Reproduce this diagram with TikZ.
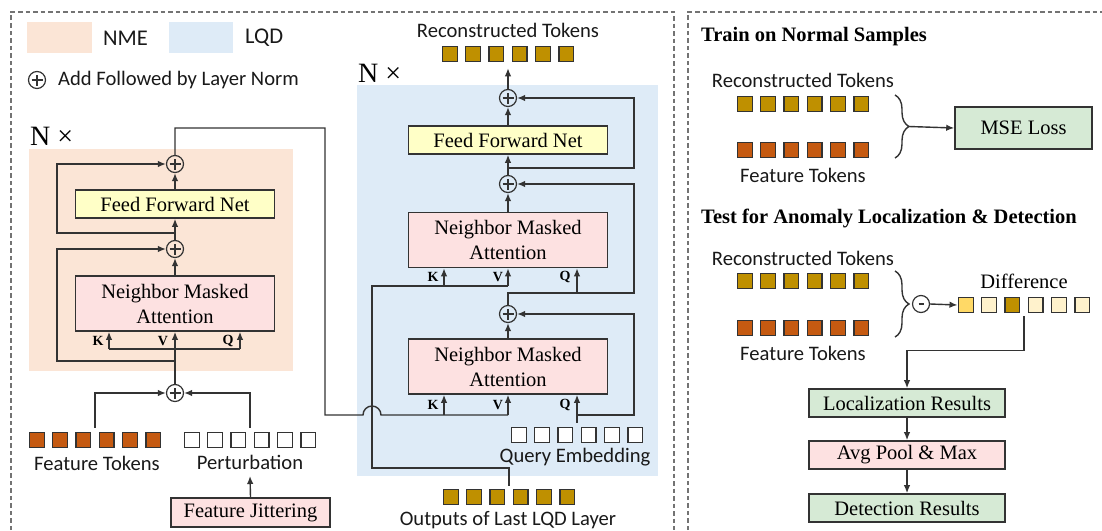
\documentclass[tikz,border=0pt]{standalone}
\usepackage{fontspec}
\setmainfont{Liberation Serif}
\newfontfamily\sansf{Carlito}
\usetikzlibrary{arrows.meta,fit,decorations.pathreplacing,calc}

\definecolor{nmeBg}{HTML}{FBE5D6}
\definecolor{lqdBg}{HTML}{DEEBF7}
\definecolor{ffnY}{HTML}{FFFFC7}
\definecolor{nmaP}{HTML}{FDE1E1}
\definecolor{resG}{HTML}{D6EAD5}
\definecolor{tokGold}{HTML}{BF9000}
\definecolor{tokOrange}{HTML}{C55A11}
\definecolor{diffHi}{HTML}{FFD966}
\definecolor{diffLo}{HTML}{FFF2CC}
\definecolor{edge}{HTML}{333333}

% a row of six token squares, named #1-1 ... #1-6, plus a fitting node #1
\newcommand\tokrow[4]{%
  \foreach \i in {1,...,6}{\node[tok,fill=#4] (#1-\i) at ({#2+(\i-3.5)*23.3},#3) {};}
  \node[fit=(#1-1)(#1-6),inner sep=0pt] (#1) {};}

\begin{document}
\begin{tikzpicture}[x=1pt,y=-1pt,
  ln/.style={line width=1.4pt, draw=edge},
  arr/.style={ln, -{Latex[length=8pt,width=6.5pt]}},
  frame/.style={draw=black!55, line width=1.1pt, dash pattern=on 4.5pt off 3pt},
  box/.style={draw=edge, line width=1.6pt, inner sep=0pt,
    font=\fontsize{20.5}{25}\selectfont, align=center},
  ffn/.style={box, fill=ffnY, minimum width=199pt, minimum height=28pt},
  nma/.style={box, fill=nmaP, minimum width=199pt, minimum height=55pt},
  res/.style={box, fill=resG, minimum width=196pt, minimum height=28pt},
  tok/.style={draw=edge, line width=1.3pt, minimum size=14.8pt, inner sep=0pt},
  sanslab/.style={inner sep=0pt, font=\sansf\fontsize{20.6}{24}\selectfont, text=black!90},
  serlab/.style={inner sep=0pt, font=\fontsize{20.5}{24}\selectfont},
  title/.style={inner sep=0pt, anchor=west, font=\fontsize{20.5}{24}\selectfont\bfseries},
  kvq/.style={inner sep=0pt, font=\fontsize{14}{16}\selectfont\bfseries},
  nx/.style={inner sep=0pt, anchor=west, font=\fontsize{28}{30}\selectfont},
  addc/.style={circle, draw=edge, line width=1.2pt, minimum size=17pt, inner sep=0pt,
    path picture={
      \draw[line width=1.2pt] ([xshift=-5.5pt]path picture bounding box.center) -- ([xshift=5.5pt]path picture bounding box.center);
      \draw[line width=1.2pt] ([yshift=-5.5pt]path picture bounding box.center) -- ([yshift=5.5pt]path picture bounding box.center);}},
  subc/.style={circle, draw=edge, line width=1.2pt, minimum size=17pt, inner sep=0pt,
    path picture={
      \draw[line width=1.2pt] ([xshift=-2.5pt]path picture bounding box.center) -- ([xshift=2.5pt]path picture bounding box.center);}},
  brace/.style={draw=edge, line width=1.4pt, decorate, decoration={brace, amplitude=14pt}},
]
\useasboundingbox (0,0) rectangle (1102,530);

% ---------- dashed frames ----------
\draw[frame] (11,530) -- (11,12) -- (674,12) -- (674,530);
\draw[frame] (688,530) -- (688,12) -- (1102,12);

% ---------- legend ----------
\fill[nmeBg] (27,22) rectangle (92,53);
\node[sanslab, anchor=west, font=\sansf\fontsize{22.5}{26}\selectfont] (legNME) at (103,38) {NME};
\fill[lqdBg] (169,22) rectangle (233,53);
\node[sanslab, anchor=west, font=\sansf\fontsize{22.5}{26}\selectfont] (legLQD) at (245,38) {LQD};
\node[addc] (legAdd) at (37,80) {};
\node[sanslab, anchor=west] (legAddTxt) at (58,80) {Add Followed by Layer Norm};

% ---------- NME block ----------
\fill[nmeBg] (29,149) rectangle (293,371);
\node[nx] (nxL) at (30,136) {N ×};
\node[addc] (pA) at (175,164) {};
\node[ffn] (ffnL) at (175,204) {Feed Forward Net};
\node[addc] (pB) at (175,249) {};
\node[nma] (nmaL) at (175,303.5) {Neighbor Masked\\Attention};
\node[addc] (pC) at (175,393) {};
\node[kvq] at (98,341) {K};
\node[kvq] at (163,341) {V};
\node[kvq] at (228,341) {Q};

\draw[arr] (pC.north) -- (nmaL.south);
\coordinate (kL) at (109,349);
\coordinate (qL) at (240,349);
\draw[ln] (kL) -- (qL);
\draw[arr] (kL) -- (kL |- nmaL.south);
\draw[arr] (qL) -- (qL |- nmaL.south);
\coordinate (rL1) at (57,361);
\draw[arr] (pC.north |- rL1) -- (rL1) |- (pB.west);
\draw[arr] (nmaL.north) -- (pB.south);
\draw[arr] (pB.north) -- (ffnL.south);
\coordinate (rL2) at (57,233);
\draw[arr] (pB.north |- rL2) -- (rL2) |- (pA.west);
\draw[arr] (ffnL.north) -- (pA.south);

% NME inputs
\tokrow{ftL}{95}{440}{tokOrange}
\tokrow{ptL}{250}{440}{white}
\node[sanslab] (ftLlab) at (97,463) {Feature Tokens};
\node[sanslab] (ptLlab) at (250,462) {Perturbation};
\node[box, fill=nmaP, minimum width=159pt, minimum height=29pt] (jit) at (250.5,512.5) {Feature Jittering};
\coordinate (jitTip) at (250,476);
\draw[arr] (jit.north) -- (jitTip);
\draw[arr] ([yshift=4pt]ftL.north) |- (pC.west);
\draw[arr] ([yshift=4pt]ptL.north) |- (pC.east);

% ---------- LQD block ----------
\fill[lqdBg] (357,85) rectangle (658,476);
\node[nx] (nxC) at (358,73) {N ×};
\node[sanslab] (recClab) at (508,30) {Reconstructed Tokens};
\tokrow{recC}{508}{54}{tokGold}
\node[addc] (pD) at (508,98) {};
\node[ffn] (ffnC) at (508,140) {Feed Forward Net};
\node[addc] (pE) at (508,184) {};
\node[nma] (nmaU) at (508,240) {Neighbor Masked\\Attention};
\node[addc] (pF) at (508,314) {};
\node[nma] (nmaB) at (508,366.5) {Neighbor Masked\\Attention};
\node[kvq] at (433,277) {K};
\node[kvq] at (498,277) {V};
\node[kvq] at (565,277) {Q};
\node[kvq] at (433,405) {K};
\node[kvq] at (498,405) {V};
\node[kvq] at (565,405) {Q};
\tokrow{qryC}{577}{435}{white}
\node[sanslab] (qryClab) at (575,457) {Query Embedding};
\tokrow{outC}{509}{497}{tokGold}
\node[sanslab] (outClab) at (508,520) {Outputs of Last LQD Layer};

\draw[arr] (pD.north) -- ([yshift=-6pt]recC.south);
\draw[arr] (ffnC.north) -- (pD.south);
\draw[arr] (pE.north) -- (ffnC.south);
\coordinate (rC1) at (634,168);
\draw[arr] (pE.north |- rC1) -- (rC1) |- (pD.east);
\draw[arr] (nmaU.north) -- (pE.south);
\coordinate (rC2) at (634,293);
\draw[arr] (pF.north) |- (rC2) |- (pE.east);
\coordinate (qU) at (577,293);
\draw[arr] (qU) -- (qU |- nmaU.south);
\draw[arr] (nmaB.north) -- (pF.south);
\draw[arr] ([yshift=4pt]qryC.north) -- (qryC.north |- nmaB.south);
\coordinate (qB) at (577,415);
\coordinate (rC3) at (634,415);
\draw[arr] (qB) -- (rC3) |- (pF.east);

% K/V of the upper attention from the last LQD layer
\coordinate (kvU) at (372,286);
\coordinate (kU) at (444,286);
\coordinate (vU) at (508,286);
\draw[ln] ([yshift=3pt]outC.north) |- (372,468) -- (kvU) -- (vU);
\draw[arr] (kU) -- (kU |- nmaU.south);
\draw[arr] (vU) -- (vU |- nmaU.south);

% NME output into K/V of the lower attention, hopping over the vertical line
\coordinate (nmeUp) at (325,128);
\coordinate (kB) at (444,415);
\coordinate (vB) at (508,415);
\draw[ln] (pA.north) |- (nmeUp) -- (325,415) -- (363,415)
  arc[start angle=180, end angle=0, radius=9pt] -- (vB);
\draw[arr] (kB) -- (kB |- nmaB.south);
\draw[arr] (vB) -- (vB |- nmaB.south);

% ---------- training ----------
\node[title] (trainT) at (701,37) {Train on Normal Samples};
\node[sanslab] (recR1lab) at (803,80) {Reconstructed Tokens};
\tokrow{recR1}{803}{104}{tokGold}
\tokrow{ftR1}{803}{150}{tokOrange}
\node[sanslab] (ftR1lab) at (803,175) {Feature Tokens};
\draw[brace] (895,95) -- (895,158);
\coordinate (b1) at (909,126.5);
\node[box, fill=resG, minimum width=137pt, minimum height=42pt] (mse) at (1023.5,128) {MSE Loss};
\draw[arr] (b1) -- (mse.west);

% ---------- testing ----------
\node[title] (testT) at (701,218) {Test for Anomaly Localization \& Detection};
\node[sanslab] (recR2lab) at (803,258) {Reconstructed Tokens};
\tokrow{recR2}{803}{281}{tokGold}
\tokrow{ftR2}{803}{328}{tokOrange}
\node[sanslab] (ftR2lab) at (803,353) {Feature Tokens};
\draw[brace] (895,271) -- (895,337);
\node[subc] (sub) at (921,304) {};
\node[serlab] (difflab) at (1024,281) {Difference};
\foreach \i/\c in {1/diffHi,2/diffLo,3/tokGold,4/diffLo,5/diffLo,6/diffLo}{
  \node[tok,fill=\c] (diff-\i) at ({1024+(\i-3.5)*23.3},305) {};}
\node[fit=(diff-1)(diff-6), inner sep=0pt] (diff) {};
\draw[arr] (sub.east) -- (diff.west);
\node[res] (loc) at (907,403) {Localization Results};
\node[box, fill=nmaP, minimum width=196pt, minimum height=28pt] (avg) at (907,455) {Avg Pool \& Max};
\node[res] (det) at (907,508) {Detection Results};
\draw[arr] ([yshift=-3pt]diff.south) -- ++(0,34) -| (loc.north);
\draw[arr] (loc.south) -- (avg.north);
\draw[arr] (avg.south) -- (det.north);
\end{tikzpicture}
\end{document}
